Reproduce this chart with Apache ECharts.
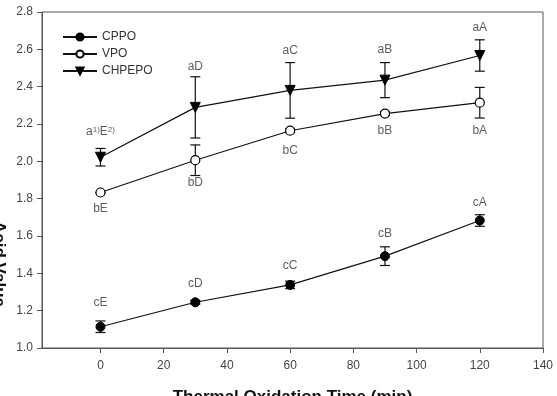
<!DOCTYPE html>
<html>
<head>
<meta charset="utf-8">
<script src="https://cdn.jsdelivr.net/npm/echarts@6/dist/echarts.min.js"></script>
<style>
  html, body { margin: 0; padding: 0; background: #fff; }
  #chart { width: 557px; height: 396px; }
</style>
</head>
<body>
<div id="chart"></div>
<script>
  // oxidation times (min)
  var times = [0, 30, 60, 90, 120];
  var xTicks = [0, 20, 40, 60, 80, 100, 120, 140];

  // acid values
  var cppo = [1.114, 1.245, 1.338, 1.492, 1.683];
  var cppoErr = [0.031, 0.01, 0.02, 0.05, 0.031];
  var vpo = [1.833, 2.006, 2.164, 2.256, 2.314];
  var vpoErr = [0.0, 0.082, 0.01, 0.01, 0.082];
  var chpepo = [2.022, 2.289, 2.380, 2.435, 2.567];
  var chpepoErr = [0.047, 0.164, 0.149, 0.094, 0.084];

  // significance letters (text, value-position)
  var chpepoTxt = ['a{s|1)}E{s|2)}', 'aD', 'aC', 'aB', 'aA'];
  var chpepoTxtY = [2.16, 2.508, 2.594, 2.598, 2.714];
  var vpoTxt = ['bE', 'bD', 'bC', 'bB', 'bA'];
  var vpoTxtY = [1.744, 1.883, 2.056, 2.165, 2.165];
  var cppoTxt = ['cE', 'cD', 'cC', 'cB', 'cA'];
  var cppoTxtY = [1.243, 1.342, 1.44, 1.615, 1.779];

  var myChart = echarts.init(document.getElementById('chart'));
  var font = 'Liberation Sans, Arial, sans-serif';

  function pairs(ys) {
    return times.map(function (t, i) { return [t, ys[i]]; });
  }

  function errSeries(ys, errs) {
    return {
      type: 'custom',
      silent: true,
      z: 1,
      data: times.map(function (t, i) { return [t, ys[i] - errs[i], ys[i] + errs[i]]; }),
      renderItem: function (params, api) {
        var lo = api.coord([api.value(0), api.value(1)]);
        var hi = api.coord([api.value(0), api.value(2)]);
        var w = 5;
        var st = { stroke: '#111', lineWidth: 1.2 };
        return {
          type: 'group',
          children: [
            { type: 'line', shape: { x1: lo[0], y1: lo[1], x2: hi[0], y2: hi[1] }, style: st },
            { type: 'line', shape: { x1: lo[0] - w, y1: lo[1], x2: lo[0] + w, y2: lo[1] }, style: st },
            { type: 'line', shape: { x1: hi[0] - w, y1: hi[1], x2: hi[0] + w, y2: hi[1] }, style: st }
          ]
        };
      }
    };
  }

  function txtSeries(txt, ys) {
    return {
      type: 'scatter',
      silent: true,
      symbolSize: 0,
      data: times.map(function (t, i) { return { value: [t, ys[i]], name: txt[i] }; }),
      label: {
        show: true,
        position: 'inside',
        formatter: function (p) { return p.name; },
        fontFamily: font,
        fontSize: 12,
        color: '#333',
        rich: {
          s: { fontSize: 8, fontFamily: font, color: '#333', verticalAlign: 'top', lineHeight: 8 }
        }
      }
    };
  }

  var lineStyle = { color: '#111', width: 1.2 };

  var option = {
    animation: false,
    grid: {
      left: 42, right: 14, top: 12, bottom: 48,
      outerBoundsMode: 'none',
      show: true, borderColor: '#555', borderWidth: 1
    },
    // y axis title, partly cut off at the left edge like the source figure
    graphic: [{
      type: 'text',
      x: 7,
      y: 264,
      rotation: -Math.PI / 2,
      style: {
        text: 'Acid Value',
        font: 'bold 17px Liberation Sans, Arial, sans-serif',
        fill: '#111',
        textAlign: 'center',
        textVerticalAlign: 'top'
      }
    }],
    legend: {
      data: ['CPPO', 'VPO', 'CHPEPO'],
      orient: 'vertical',
      left: 57,
      top: 26,
      itemWidth: 34,
      itemHeight: 9,
      itemGap: 5,
      textStyle: { fontFamily: font, fontSize: 12, color: '#333' }
    },
    xAxis: {
      type: 'value',
      min: -18.5,
      max: 140,
      name: 'Thermal Oxidation Time (min)',
      nameLocation: 'middle',
      nameGap: 41,
      nameTextStyle: { fontFamily: font, fontSize: 17, fontWeight: 'bold', color: '#111', verticalAlign: 'top' },
      axisLine: { show: true, onZero: false, lineStyle: { color: '#555' } },
      axisTick: { show: true, length: 5, customValues: xTicks, lineStyle: { color: '#555' } },
      axisLabel: { customValues: xTicks, fontFamily: font, fontSize: 12, color: '#444', margin: 12 },
      splitLine: { show: false }
    },
    yAxis: {
      type: 'value',
      min: 1.0,
      max: 2.8,
      interval: 0.2,
      axisLine: { show: true, onZero: false, lineStyle: { color: '#555' } },
      axisTick: { show: true, length: 5, lineStyle: { color: '#555' } },
      axisLabel: {
        fontFamily: font, fontSize: 12, color: '#444', margin: 9,
        formatter: function (v) { return v.toFixed(1); }
      },
      splitLine: { show: false }
    },
    series: [
      errSeries(cppo, cppoErr),
      errSeries(vpo, vpoErr),
      errSeries(chpepo, chpepoErr),
      {
        name: 'CPPO', type: 'line', data: pairs(cppo), z: 3,
        symbol: 'circle', symbolSize: 9,
        lineStyle: lineStyle,
        itemStyle: { color: '#000', borderColor: '#000', borderWidth: 1 }
      },
      {
        name: 'VPO', type: 'line', data: pairs(vpo), z: 3,
        symbol: 'circle', symbolSize: 9,
        lineStyle: lineStyle,
        itemStyle: { color: '#fff', borderColor: '#000', borderWidth: 1.2 }
      },
      {
        name: 'CHPEPO', type: 'line', data: pairs(chpepo), z: 3,
        symbol: 'triangle', symbolRotate: 180, symbolSize: 10,
        lineStyle: lineStyle,
        itemStyle: { color: '#000', borderColor: '#000', borderWidth: 1 }
      },
      txtSeries(chpepoTxt, chpepoTxtY),
      txtSeries(vpoTxt, vpoTxtY),
      txtSeries(cppoTxt, cppoTxtY)
    ]
  };

  myChart.setOption(option);
</script>
</body>
</html>
